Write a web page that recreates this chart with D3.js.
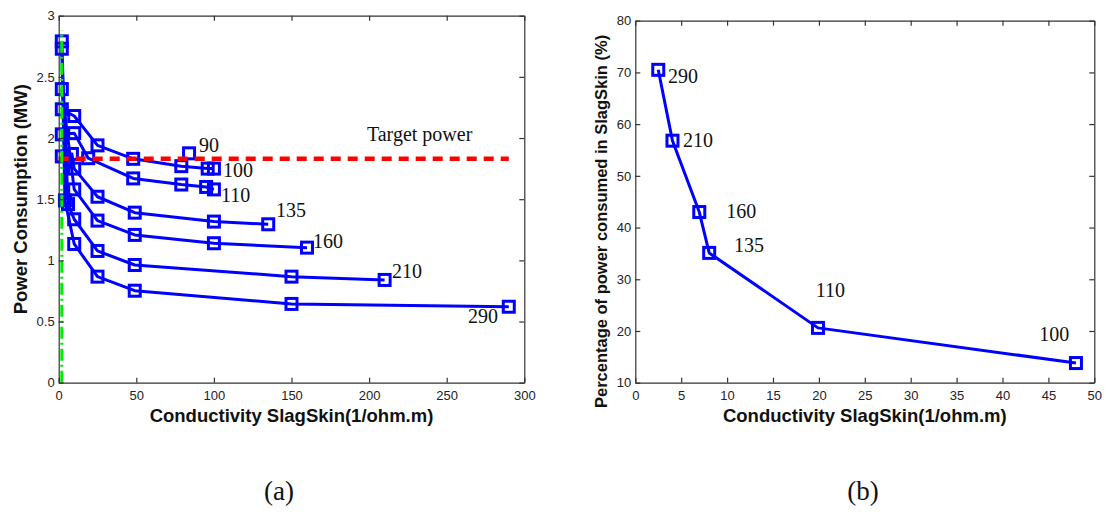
<!DOCTYPE html>
<html>
<head>
<meta charset="utf-8">
<script src="https://cdn.jsdelivr.net/npm/d3@7"></script>
<style>
body { margin: 0; background: #fff; }
.tick text { font-family: "Liberation Sans", Arial, sans-serif; font-size: 13px; fill: #222; }
.tick line, .domain { stroke: #333; stroke-width: 1.2; }
.ann { font-family: "Liberation Serif", "Times New Roman", serif; font-size: 20px; fill: #111; }
.axtitle { font-family: "Liberation Sans", Arial, sans-serif; font-size: 18.5px; font-weight: bold; fill: #111; }
.caption { font-family: "Liberation Serif", "Times New Roman", serif; font-size: 27px; fill: #111; }
</style>
</head>
<body>
<svg id="chart" width="1106" height="515"></svg>
<script>
// ---- panel (a): power consumption vs slag skin conductivity, one curve per case
var cond100 = [2, 10, 25, 48, 79, 96, 100];
var pow100  = [2.235, 2.18, 1.94, 1.83, 1.77, 1.75, 1.75];
var cond110 = [2, 10, 19, 48, 79, 95, 100];
var pow110  = [2.03, 2.04, 1.835, 1.67, 1.62, 1.60, 1.58];
var cond135 = [2, 8.5, 10, 25, 49, 100, 135];
var pow135  = [1.85, 1.87, 1.75, 1.52, 1.39, 1.317, 1.295];
var cond160 = [2, 10, 25, 49, 100, 160];
var pow160  = [2.40, 1.58, 1.325, 1.208, 1.14, 1.104];
var cond210 = [2, 6, 10, 25, 49, 150, 210];
var pow210  = [2.73, 1.46, 1.336, 1.077, 0.962, 0.867, 0.84];
var cond290 = [2, 4, 10, 25, 49, 150, 290];
var pow290  = [2.79, 1.49, 1.134, 0.867, 0.752, 0.644, 0.621];
var cond90  = [84];
var pow90   = [1.875];

var seriesA = [
    { name: "100", x: cond100, y: pow100 },
    { name: "110", x: cond110, y: pow110 },
    { name: "135", x: cond135, y: pow135 },
    { name: "160", x: cond160, y: pow160 },
    { name: "210", x: cond210, y: pow210 },
    { name: "290", x: cond290, y: pow290 },
    { name: "90",  x: cond90,  y: pow90 }
];

// label anchors (data units) for the curve names in panel (a)
var labelsA  = ["90", "100", "110", "135", "160", "210", "290"];
var labelAx  = [90.4, 105.9, 104.6, 140, 163.8, 214.8, 263.7];
var labelAy  = [1.886, 1.682, 1.477, 1.355, 1.102, 0.856, 0.488];

var targetPower = 1.83;
var targetCond  = [0, 290];
var limitCond   = 2;
var limitPow    = [0, 2.88];

var xTicksA = [0, 50, 100, 150, 200, 250, 300];
var yTicksA = [0, 0.5, 1, 1.5, 2, 2.5, 3];

// ---- panel (b): share of power consumed in slag skin
var condB   = [2.5, 4.05, 6.97, 8.05, 19.9, 48.0];
var pctB    = [70.5, 56.8, 43.0, 35.1, 20.6, 13.8];
var labelsB = ["290", "210", "160", "135", "110", "100"];
var labelBx = [3.56, 5.2, 9.9, 10.75, 19.66, 44.0];
var labelBy = [67.95, 55.6, 41.8, 35.25, 26.6, 18.05];

var xTicksB = d3.range(0, 51, 5);
var yTicksB = d3.range(10, 81, 10);

var svg = d3.select("#chart");
var blue = "#0000ff";

// draws a MATLAB-like boxed axes with inward ticks on all four sides
function drawBox(g, x, y, xt, yt) {
    var left = x.range()[0], right = x.range()[1];
    var bottom = y.range()[0], top = y.range()[1];
    g.append("g").attr("transform", "translate(0," + bottom + ")")
        .call(d3.axisBottom(x).tickValues(xt).tickSizeInner(-5).tickSizeOuter(0).tickPadding(8).tickFormat(d3.format("")));
    g.append("g").attr("transform", "translate(0," + top + ")")
        .call(d3.axisTop(x).tickValues(xt).tickSizeInner(-5).tickSizeOuter(0).tickFormat(""));
    g.append("g").attr("transform", "translate(" + left + ",0)")
        .call(d3.axisLeft(y).tickValues(yt).tickSizeInner(-5).tickSizeOuter(0).tickPadding(4).tickFormat(d3.format("")));
    g.append("g").attr("transform", "translate(" + right + ",0)")
        .call(d3.axisRight(y).tickValues(yt).tickSizeInner(-5).tickSizeOuter(0).tickFormat(""));
}

function drawMarkers(g, pts, x, y) {
    g.selectAll(null)
        .data(pts)
        .enter()
        .append("rect")
        .attr("x", d => x(d[0]) - 5.5)
        .attr("y", d => y(d[1]) - 5.5)
        .attr("width", 11)
        .attr("height", 11)
        .attr("fill", "none")
        .attr("stroke", blue)
        .attr("stroke-width", 3);
}

// ---------------- panel (a)
var xA = d3.scaleLinear().domain([0, 300]).range([58.7, 524.3]);
var yA = d3.scaleLinear().domain([0, 3]).range([382.7, 15.7]);
var gA = svg.append("g");

var lineA = d3.line().x(d => xA(d[0])).y(d => yA(d[1]));

seriesA.forEach(function(s) {
    var pts = s.x.map((v, i) => [v, s.y[i]]);
    if (pts.length > 1) {
        gA.append("path")
            .datum(pts)
            .attr("d", lineA)
            .attr("fill", "none")
            .attr("stroke", blue)
            .attr("stroke-width", 3)
            .attr("stroke-linejoin", "round");
    }
});
seriesA.forEach(function(s) {
    drawMarkers(gA, s.x.map((v, i) => [v, s.y[i]]), xA, yA);
});

// target power line
gA.append("line")
    .attr("x1", xA(targetCond[0])).attr("x2", xA(targetCond[1]))
    .attr("y1", yA(targetPower)).attr("y2", yA(targetPower))
    .attr("stroke", "#ff0000")
    .attr("stroke-width", 4.5)
    .attr("stroke-dasharray", "10,7");

// green dash-dot limit line
gA.append("line")
    .attr("x1", xA(limitCond)).attr("x2", xA(limitCond))
    .attr("y1", yA(limitPow[0])).attr("y2", yA(limitPow[1]))
    .attr("stroke", "#00ee00")
    .attr("stroke-width", 3)
    .attr("stroke-dasharray", "12,4,2,4");

drawBox(gA, xA, yA, xTicksA, yTicksA);

gA.selectAll(".annA")
    .data(labelsA)
    .enter()
    .append("text")
    .attr("class", "ann")
    .attr("x", (d, i) => xA(labelAx[i]))
    .attr("y", (d, i) => yA(labelAy[i]))
    .text(d => d);

gA.append("text")
    .attr("class", "ann")
    .attr("x", xA(198.6))
    .attr("y", yA(1.976))
    .text("Target power");

gA.append("text")
    .attr("class", "axtitle")
    .attr("text-anchor", "middle")
    .attr("x", (xA.range()[0] + xA.range()[1]) / 2)
    .attr("y", 422)
    .text("Conductivity SlagSkin(1/ohm.m)");

gA.append("text")
    .attr("class", "axtitle")
    .attr("text-anchor", "middle")
    .attr("transform", "translate(27," + (yA.range()[0] + yA.range()[1]) / 2 + ") rotate(-90)")
    .text("Power Consumption (MW)");

// ---------------- panel (b)
var xB = d3.scaleLinear().domain([0, 50]).range([635.3, 1094.3]);
var yB = d3.scaleLinear().domain([10, 80]).range([382.7, 20.7]);
var gB = svg.append("g");

var ptsB = condB.map((v, i) => [v, pctB[i]]);
gB.append("path")
    .datum(ptsB)
    .attr("d", d3.line().x(d => xB(d[0])).y(d => yB(d[1])))
    .attr("fill", "none")
    .attr("stroke", blue)
    .attr("stroke-width", 3)
    .attr("stroke-linejoin", "round");
drawMarkers(gB, ptsB, xB, yB);

drawBox(gB, xB, yB, xTicksB, yTicksB);

gB.selectAll(".annB")
    .data(labelsB)
    .enter()
    .append("text")
    .attr("class", "ann")
    .attr("x", (d, i) => xB(labelBx[i]))
    .attr("y", (d, i) => yB(labelBy[i]))
    .text(d => d);

gB.append("text")
    .attr("class", "axtitle")
    .attr("text-anchor", "middle")
    .attr("x", (xB.range()[0] + xB.range()[1]) / 2)
    .attr("y", 422)
    .text("Conductivity SlagSkin(1/ohm.m)");

// long title: start at the bottom and keep it inside the picture
gB.append("text")
    .attr("class", "axtitle")
    .style("font-size", "16.5px")
    .attr("text-anchor", "start")
    .attr("transform", "translate(607,408) rotate(-90)")
    .text("Percentage of power consumed in SlagSkin (%)");

// captions
svg.append("text").attr("class", "caption").attr("text-anchor", "middle")
    .attr("x", 279).attr("y", 500).text("(a)");
svg.append("text").attr("class", "caption").attr("text-anchor", "middle")
    .attr("x", 863).attr("y", 500).text("(b)");
</script>
</body>
</html>
